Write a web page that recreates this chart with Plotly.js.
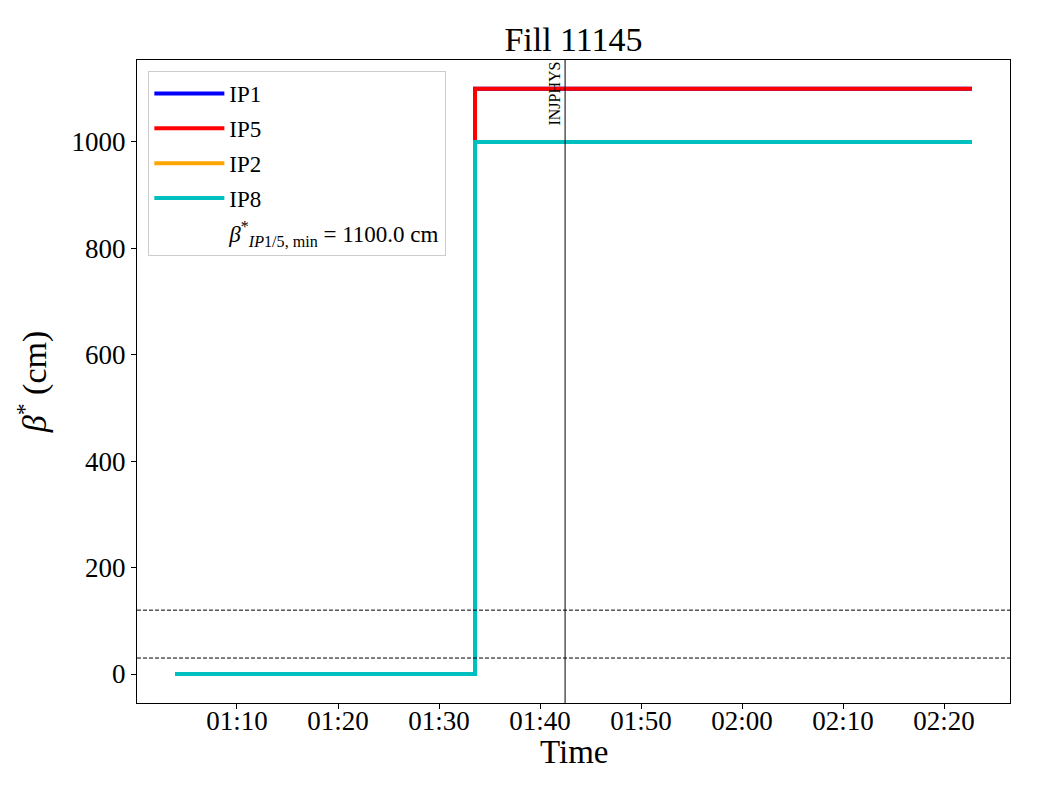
<!DOCTYPE html>
<html>
<head>
<meta charset="utf-8">
<script src="https://cdn.plot.ly/plotly-3.0.1.min.js"></script>
<style>html,body{margin:0;padding:0;background:#fff;}#chart{width:1040px;height:800px;}</style>
</head>
<body>
<div id="chart"></div>
<script>
// Data
const seriesNames = ["IP1", "IP5", "IP2", "IP8"];
const seriesColors = ["#0000ff", "#ff0000", "#ffa500", "#00bfbf"];
const times = ["2025-09-01 01:03:52", "2025-09-01 01:33:34", "2025-09-01 02:22:46"];
const ip1 = [0, 1100, 1100];
const ip5 = [0, 1100, 1100];
const ip2 = [0, 1000, 1000];
const ip8 = [0, 1000, 1000];
const thresholds = [120, 30];
const markerTime = "2025-09-01 01:42:29";
const markerLabel = "INJPHYS";
const betaMin = 1100.0;
const xRange = ["2025-09-01 01:00:06", "2025-09-01 02:26:32"];
const xTicks = ["2025-09-01 01:10", "2025-09-01 01:20", "2025-09-01 01:30", "2025-09-01 01:40", "2025-09-01 01:50", "2025-09-01 02:00", "2025-09-01 02:10", "2025-09-01 02:20"];
const xTickText = ["01:10", "01:20", "01:30", "01:40", "01:50", "02:00", "02:10", "02:20"];
const yTicks = [0, 200, 400, 600, 800, 1000];

const values = [ip1, ip5, ip2, ip8];
const font = "Liberation Serif, Times New Roman, serif";

const traces = values.map((v, i) => ({
  x: times, y: v, type: "scatter", mode: "lines", name: seriesNames[i],
  legendgroup: "g" + i,
  line: {color: seriesColors[i], width: 4, shape: "hv"}
}));
traces.push({
  x: [null], y: [null], type: "scatter", mode: "lines", legendgroup: "g4",
  name: "<i>β</i><sup>*</sup><sub><i>IP</i>1/5, min</sub> = " + betaMin.toFixed(1) + " cm",
  line: {color: "rgba(0,0,0,0)", width: 0}
});

const shapes = thresholds.map(t => ({
  type: "line", xref: "paper", x0: 0, x1: 1, yref: "y", y0: t, y1: t,
  line: {color: "#000", width: 1, dash: "4px,2px"}
}));
shapes.push({
  type: "line", xref: "x", x0: markerTime, x1: markerTime, yref: "paper", y0: 0, y1: 1,
  line: {color: "#000", width: 1}
});

const layout = {
  width: 1040, height: 800,
  paper_bgcolor: "#fff", plot_bgcolor: "#fff",
  margin: {l: 137, r: 30, t: 60, b: 97},
  font: {family: font, color: "#000"},
  title: {text: "Fill 11145", font: {family: font, size: 34, color: "#000"}, x: 0.5, xanchor: "center", xref: "paper", y: 0.951, yanchor: "middle"},
  xaxis: {
    type: "date", range: xRange, tickvals: xTicks, ticktext: xTickText,
    showgrid: false, zeroline: false, showline: true, mirror: true, linecolor: "#000", linewidth: 1,
    ticks: "outside", ticklen: 5, tickcolor: "#000", ticklabelstandoff: -11,
    tickfont: {family: font, size: 27, color: "#000"}
  },
  yaxis: {
    range: [-54.5, 1154], tickvals: yTicks,
    showgrid: false, zeroline: false, showline: true, mirror: true, linecolor: "#000", linewidth: 1,
    ticks: "outside", ticklen: 5, tickcolor: "#000",
    tickfont: {family: font, size: 27, color: "#000"},
    title: {text: "<i>β</i><sup>*</sup> (cm)", font: {family: font, size: 34, color: "#000"}, standoff: 14}
  },
  legend: {
    x: 0.013, y: 0.983, xanchor: "left", yanchor: "top",
    bgcolor: "rgba(255,255,255,0.8)", bordercolor: "#cccccc", borderwidth: 1,
    font: {family: font, size: 23, color: "#000"}, tracegroupgap: 2, itemwidth: 70
  },
  shapes: shapes,
  annotations: [{
    x: markerTime, xref: "x", y: 1, yref: "paper", text: markerLabel, textangle: -90,
    showarrow: false, xanchor: "right", yanchor: "top", xshift: -1,
    font: {family: font, size: 16, color: "#000"}
  }, {
    x: 0.5, xref: "paper", y: -0.0762, yref: "paper", text: "Time",
    showarrow: false, xanchor: "center", yanchor: "middle",
    font: {family: font, size: 33, color: "#000"}
  }],
  showlegend: true
};

Plotly.newPlot("chart", traces, layout, {displayModeBar: false, staticPlot: true});
</script>
</body>
</html>
